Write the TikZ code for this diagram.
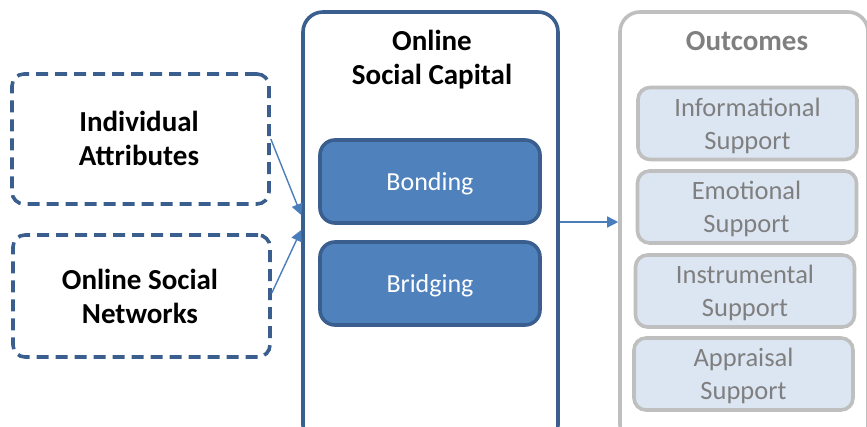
\documentclass[tikz,border=0pt]{standalone}
\usepackage{fontspec}
\setmainfont{Carlito}
\usetikzlibrary{arrows.meta,calc}
\definecolor{dblue}{HTML}{3A5F8F}
\definecolor{mblue}{HTML}{4F81BD}
\definecolor{ablue}{HTML}{4A7EBB}
\definecolor{gborder}{HTML}{BFBFBF}
\definecolor{gfill}{HTML}{DCE6F2}
\definecolor{gtext}{HTML}{7F7F7F}
\begin{document}
\begin{tikzpicture}[x=1pt,y=-1pt,
  inbox/.style={draw=dblue,line width=3.6pt,dash pattern=on 12pt off 7pt,rounded corners=12pt,
    minimum width=257pt,minimum height=130pt},
  intext/.style={align=center,font=\fontsize{29}{34}\selectfont\bfseries},
  bigbox/.style={draw=dblue,line width=3.6pt,rounded corners=20pt,minimum width=255pt,minimum height=433pt},
  outbox/.style={draw=gborder,line width=3.6pt,rounded corners=20pt,minimum width=248pt,minimum height=433pt},
  capbox/.style={draw=dblue,fill=mblue,line width=3.6pt,rounded corners=15pt,minimum width=220pt,minimum height=83pt},
  captext/.style={text=white,font=\fontsize{26}{32}\selectfont},
  subbox/.style={draw=gborder,fill=gfill,line width=3.6pt,rounded corners=12pt,minimum width=219pt,minimum height=72pt},
  subtext/.style={align=center,text=gtext,font=\fontsize{26.5}{33}\selectfont},
  title/.style={align=center,font=\fontsize{29}{34}\selectfont\bfseries},
  conn/.style={draw=ablue,line width=1.4pt,-{Triangle[length=11pt,width=11pt]}}
]
\useasboundingbox (0,0) rectangle (867,427);
\node[inbox] (ia) at (140.5,139) {};
\node[intext] (iat) at (139,138) {Individual\\Attributes};
\node[inbox,minimum height=122pt] (osn) at (141.5,296) {};
\node[intext] (osnt) at (140,296) {Online Social\\Networks};
\node[bigbox] (osc) at (430.5,228.5) {};
\node[title] (osct) at (432,60) {Online\\Social Capital};
\node[capbox] (bond) at (430,181.5) {};
\node[captext] (bondt) at (430,184) {Bonding};
\node[capbox] (brid) at (430,283.5) {};
\node[captext] (bridt) at (430,286) {Bridging};
\node[outbox] (out) at (744,228.5) {};
\node[title,text=gtext] (outt) at (747,41) {Outcomes};
\node[subbox] (s1) at (747.5,123.5) {};
\node[subtext] (s1t) at (747.5,125.5) {Informational\\Support};
\node[subbox] (s2) at (747,207) {};
\node[subtext] (s2t) at (746.5,209) {Emotional\\Support};
\node[subbox] (s3) at (745,291) {};
\node[subtext] (s3t) at (745,293) {Instrumental\\Support};
\node[subbox] (s4) at (743.5,374) {};
\node[subtext] (s4t) at (743.5,376) {Appraisal\\Support};
\coordinate (e1) at ($(osc.west)+(0,-13.5)$);
\coordinate (e2) at ($(osc.west)+(0,1.5)$);
\coordinate (o1) at ($(osc.east)+(0,-6.5)$);
\coordinate (o2) at ($(out.west)+(0,-6.5)$);
\draw[conn] (ia.east) -- (e1);
\draw[conn] ($(osn.east)+(0,-3)$) -- (e2);
\draw[conn] (o1) -- (o2);
\end{tikzpicture}
\end{document}
